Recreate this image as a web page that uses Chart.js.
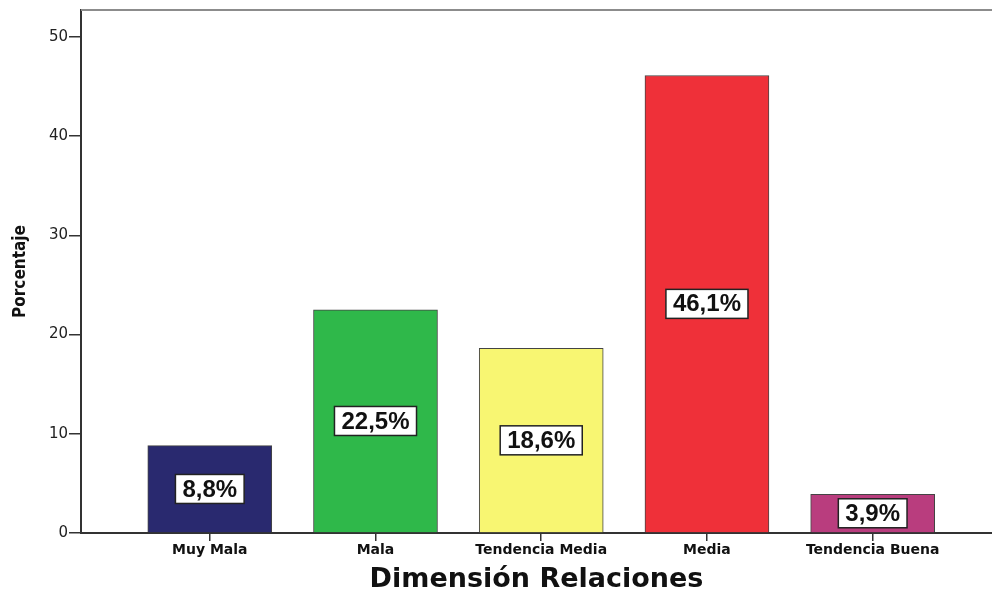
<!DOCTYPE html>
<html>
 <head>
  <title>Dimensión Relaciones</title>
  <style>
  body { margin: 0; background: #fff; }
  #wrap { width: 992px; height: 596px; }
  </style>
 </head>
 <body>
 <div id="wrap"><canvas id="chart"></canvas></div>
 <script src="https://cdn.jsdelivr.net/npm/chart.js@4.4.0/dist/chart.umd.min.js"></script>
 <script>
 // categories and percentages
 const categories = ['Muy Mala', 'Mala', 'Tendencia Media', 'Media', 'Tendencia Buena'];
 const percents = [8.8, 22.5, 18.6, 46.1, 3.9];
 const pctLabels = ['8,8%', '22,5%', '18,6%', '46,1%', '3,9%'];
 const barColors = ['#29296f', '#2fb84a', '#f8f672', '#ef3039', '#b93d7e'];
 const yTicks = [0, 10, 20, 30, 40, 50];

 const font = '"Liberation Sans", Arial, sans-serif';
 const wide = '"DejaVu Sans", Verdana, sans-serif';

 // boxed labels in the middle of each bar
 const boxLabels = {
  id: 'boxLabels',
  afterDatasetsDraw(chart) {
   const ctx = chart.ctx;
   const meta = chart.getDatasetMeta(0);
   ctx.save();
   ctx.font = 'bold 24px ' + font;
   ctx.textAlign = 'center';
   ctx.textBaseline = 'middle';
   meta.data.forEach((bar, i) => {
    const p = bar.getProps(['x', 'y', 'base'], true);
    const cy = (p.y + p.base) / 2;
    const w = ctx.measureText(pctLabels[i]).width + 14;
    const h = 29;
    ctx.fillStyle = '#fff';
    ctx.fillRect(p.x - w / 2, cy - h / 2, w, h);
    ctx.strokeStyle = '#222';
    ctx.lineWidth = 1.5;
    ctx.strokeRect(p.x - w / 2, cy - h / 2, w, h);
    ctx.fillStyle = '#111';
    ctx.fillText(pctLabels[i], p.x, cy + 1);
   });
   ctx.restore();
  }
 };

 // gray frame line along the top of the plot area
 const topLine = {
  id: 'topLine',
  beforeDatasetsDraw(chart) {
   const a = chart.chartArea;
   const ctx = chart.ctx;
   ctx.save();
   ctx.strokeStyle = '#8c8c8c';
   ctx.lineWidth = 2;
   ctx.beginPath();
   ctx.moveTo(a.left, a.top);
   ctx.lineTo(a.right, a.top);
   ctx.stroke();
   ctx.restore();
  }
 };

 new Chart(document.getElementById('chart'), {
  type: 'bar',
  data: {
   datasets: [{
    data: percents.map((v, i) => ({x: i, y: v})),
    backgroundColor: barColors,
    borderColor: '#444',
    borderWidth: 1,
    barThickness: 124
   }]
  },
  options: {
   responsive: true,
   maintainAspectRatio: false,
   animation: false,
   layout: { padding: { top: 8, right: 0, left: 0, bottom: 0 } },
   plugins: { legend: { display: false }, tooltip: { enabled: false } },
   scales: {
    x: {
     type: 'linear',
     offset: false,
     min: -0.777,
     max: 4.72,
     afterBuildTicks: s => { s.ticks = categories.map((c, i) => ({value: i})); },
     afterFit: s => { s.height = 63; },
     ticks: {
      autoSkip: false,
      maxRotation: 0,
      padding: 1,
      color: '#111',
      font: { family: wide, size: 14, weight: 'bold' },
      callback: v => categories[v]
     },
     grid: { display: true, offset: false, drawOnChartArea: false, drawTicks: true, tickLength: 8, color: '#333', lineWidth: 1.5 },
     border: { color: '#333', width: 2 },
     title: {
      display: true,
      text: 'Dimensión Relaciones',
      color: '#111',
      font: { family: wide, size: 27, weight: 'bold' },
      padding: { top: 0, bottom: 0 }
     }
    },
    y: {
     min: 0,
     max: 52.7,
     afterBuildTicks: s => { s.ticks = yTicks.map(v => ({value: v})); },
     afterFit: s => { s.width = 81; },
     ticks: {
      padding: 1,
      color: '#222',
      font: { family: wide, size: 15 }
     },
     grid: { display: true, drawOnChartArea: false, drawTicks: true, tickLength: 12, color: '#333', lineWidth: 1.5 },
     border: { color: '#333', width: 2 },
     title: {
      display: true,
      text: 'Porcentaje',
      color: '#111',
      font: { family: '"DejaVu Sans Condensed", ' + wide, size: 17, weight: 'bold' },
      padding: { top: 10, bottom: 0 }
     }
    }
   }
  },
  plugins: [topLine, boxLabels]
 });
 </script>
 </body>
</html>
